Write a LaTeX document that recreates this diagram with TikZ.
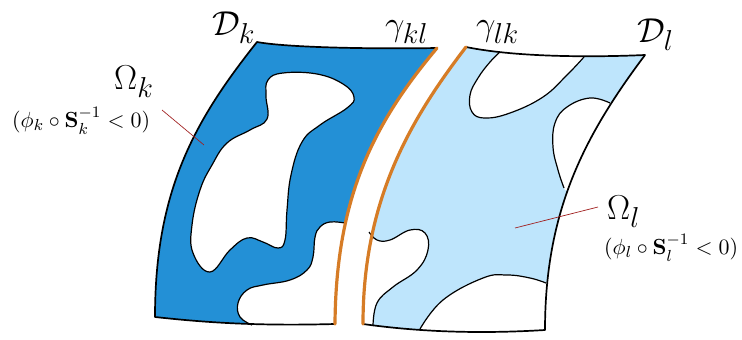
\documentclass[tikz,border=0pt]{standalone}
\usepackage{amsmath}
\definecolor{dkblue}{RGB}{35,144,214}
\definecolor{ltblue}{RGB}{190,229,252}
\definecolor{orng}{RGB}{214,124,38}
\definecolor{leader}{RGB}{160,30,30}
\newcommand\biglabtxt[1]{\scalebox{2}{\fontsize{19}{21}\selectfont$#1$}}
\newcommand\smalllabtxt[1]{\scalebox{2}{\fontsize{11}{13}\selectfont$#1$}}
\tikzset{
  bound/.style={draw=black,line width=1.7pt,line join=round},
  holeline/.style={draw=black,line width=1.2pt},
  gam/.style={draw=orng,line width=3.2pt,line cap=round},
  lead/.style={draw=leader,line width=0.7pt},
  biglab/.style={inner sep=0pt,anchor=base west},
  smalllab/.style={inner sep=0pt,anchor=base west},
}
\begin{document}
\begin{tikzpicture}[x=1pt,y=-1pt]
\useasboundingbox (0,0) rectangle (742,340);
% ---------- domain D_k ----------
\def\Dkpath{(257,42) .. controls (290,48) and (380,49) .. (437,48)
  .. controls (375,122) and (336,195) .. (335,324)
  .. controls (260,326) and (210,323) .. (155,317)
  .. controls (155,190) and (195,120) .. (257,42) -- cycle}
\fill[dkblue] \Dkpath;
\begin{scope}
\clip \Dkpath;
\fill[white] plot[smooth,tension=0.7] coordinates {(345,223) (330,222) (320,227) (315,237) (313,257) (307,270) (290,280) (263,285) (247,290) (238,303) (240,317) (252,326)} -- (260,345) -- (370,345) -- (370,215) -- cycle;
\end{scope}
\filldraw[fill=white,holeline] plot[smooth cycle,tension=0.7] coordinates {(266,96) (268,80) (283,73) (317,74) (343,84) (354,97) (347,108) (320,125) (302,142) (291,175) (287,210) (285,240) (278,248) (263,242) (247,238) (230,250) (210,272) (193,253) (192,225) (200,190) (212,165) (227,143) (250,130) (267,119)};
\draw[holeline] plot[smooth,tension=0.7] coordinates {(345,223) (330,222) (320,227) (315,237) (313,257) (307,270) (290,280) (263,285) (247,290) (238,303) (240,317) (252,325)};
\draw[bound] (437,48) .. controls (380,49) and (290,48) .. (257,42)
  .. controls (195,120) and (155,190) .. (155,317)
  .. controls (210,323) and (260,326) .. (335,324);
\draw[gam] (437,48) .. controls (375,122) and (336,195) .. (335,324);
% ---------- domain D_l ----------
\def\Dlpath{(466,47) .. controls (410,120) and (363,200) .. (363,324)
  .. controls (420,332) and (480,334) .. (545,330)
  .. controls (545,210) and (585,135) .. (645,55)
  .. controls (600,57) and (520,58) .. (466,47) -- cycle}
\fill[ltblue] \Dlpath;
\begin{scope}
\clip \Dlpath;
\fill[white] plot[smooth,tension=0.7] coordinates {(500,50) (490,62) (478,78) (470,95) (472,112) (485,118) (510,113) (543,97) (567,75) (585,55)} -- (585,35) -- (500,35) -- cycle;
\fill[white] plot[smooth,tension=0.7] coordinates {(612,103) (590,98) (567,107) (555,123) (553,147) (558,170) (565,190)} -- (640,195) -- (640,95) -- cycle;
\fill[white] plot[smooth,tension=0.7] coordinates {(369,232) (377,240) (390,240) (410,230) (425,233) (428,250) (417,270) (393,287) (377,303) (373,328)} -- (350,335) -- (350,232) -- cycle;
\fill[white] plot[smooth,tension=0.7] coordinates {(420,330) (443,300) (483,278) (507,275) (530,278) (548,283)} -- (560,345) -- (420,345) -- cycle;
\end{scope}
\draw[holeline] plot[smooth,tension=0.7] coordinates {(500,52) (490,62) (478,78) (470,95) (472,112) (485,118) (510,113) (543,97) (567,75) (584,57)};
\draw[holeline] plot[smooth,tension=0.7] coordinates {(610,103) (590,98) (567,107) (555,123) (553,147) (558,170) (564,188)};
\draw[holeline] plot[smooth,tension=0.7] coordinates {(369,232) (377,240) (390,240) (410,230) (425,233) (428,250) (417,270) (393,287) (377,303) (373,326)};
\draw[holeline] plot[smooth,tension=0.7] coordinates {(420,329) (443,300) (483,278) (507,275) (530,278) (546,283)};
\draw[bound] (363,324) .. controls (420,332) and (480,334) .. (545,330)
  .. controls (545,210) and (585,135) .. (645,55)
  .. controls (600,57) and (520,58) .. (466,47);
\draw[gam] (466,47) .. controls (410,120) and (363,200) .. (363,324);
% ---------- labels ----------
\node[biglab] (Dk) at (212,35) {\biglabtxt{\mathcal{D}_k}};
\node[biglab] (Dl) at (637,42) {\biglabtxt{\mathcal{D}_l}};
\node[biglab] (gkl) at (385,35) {\biglabtxt{\gamma_{kl}}};
\node[biglab] (glk) at (476,35) {\biglabtxt{\gamma_{lk}}};
\node[biglab] (Ok) at (114,89) {\biglabtxt{\Omega_k}};
\node[biglab] (Ol) at (607,219) {\biglabtxt{\Omega_l}};
\node[smalllab] (Sk) at (12,127) {\smalllabtxt{(\phi_k\circ\mathbf{S}_k^{-1}<0)}};
\node[smalllab] (Sl) at (604,254) {\smalllabtxt{(\phi_l\circ\mathbf{S}_l^{-1}<0)}};
\coordinate (lk1) at (162,110);
\coordinate (lk2) at (204,145);
\coordinate (ll1) at (598,207);
\coordinate (ll2) at (515,228);
\draw[lead] (lk1) -- (lk2);
\draw[lead] (ll1) -- (ll2);
\end{tikzpicture}
\end{document}
